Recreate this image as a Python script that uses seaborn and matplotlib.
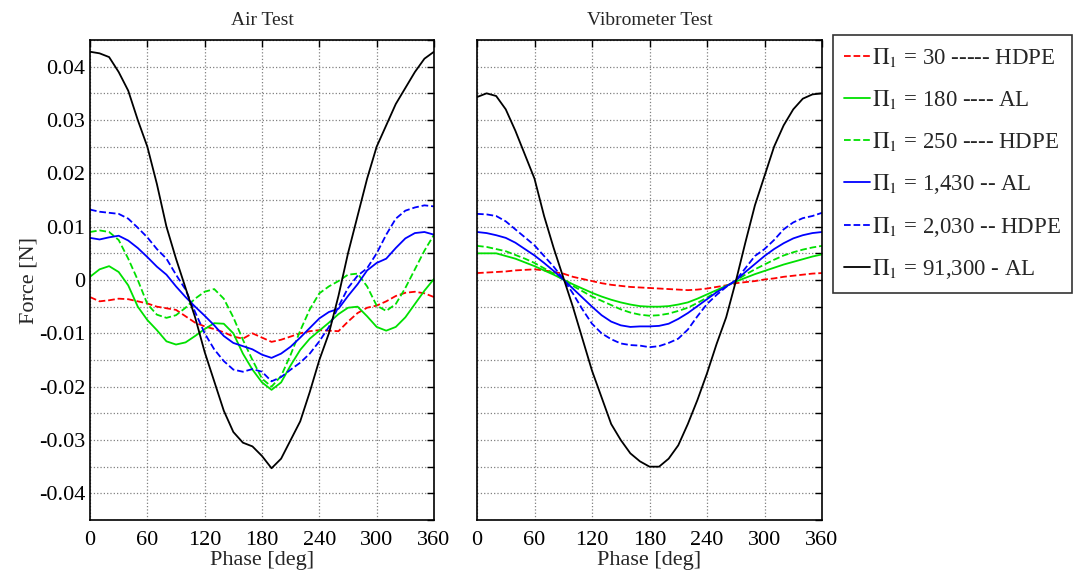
import numpy as np
import pandas as pd
import matplotlib
matplotlib.use("Agg")
import matplotlib.pyplot as plt
import seaborn as sns

phase = list(range(0, 361, 10))

labels = [r"$\Pi_1$ = 30 ----- HDPE",
          r"$\Pi_1$ = 180 ---- AL",
          r"$\Pi_1$ = 250 ---- HDPE",
          r"$\Pi_1$ = 1,430 -- AL",
          r"$\Pi_1$ = 2,030 -- HDPE",
          r"$\Pi_1$ = 91,300 - AL"]

# ---- Air Test ----
air_30 = [-0.0032, -0.0040, -0.0038, -0.0035, -0.0036, -0.0040, -0.0044, -0.0050, -0.0053, -0.0056,
          -0.0068, -0.0080, -0.0087, -0.0092, -0.0098, -0.0106, -0.0110, -0.0100, -0.0108, -0.0116,
          -0.0112, -0.0106, -0.0100, -0.0096, -0.0094, -0.0095, -0.0096, -0.0078, -0.0062, -0.0052,
          -0.0048, -0.0040, -0.0030, -0.0024, -0.0022, -0.0025, -0.0032]
air_180 = [0.0006, 0.0020, 0.0026, 0.0015, -0.0010, -0.0050, -0.0075, -0.0094, -0.0115, -0.0121,
           -0.0117, -0.0105, -0.0092, -0.0081, -0.0082, -0.0100, -0.0138, -0.0168, -0.0192, -0.0206,
           -0.0192, -0.0160, -0.0131, -0.0110, -0.0095, -0.0080, -0.0064, -0.0052, -0.0050, -0.0068,
           -0.0088, -0.0095, -0.0088, -0.0070, -0.0045, -0.0020, 0.0002]
air_250 = [0.0090, 0.0093, 0.0090, 0.0075, 0.0040, 0.0000, -0.0045, -0.0065, -0.0071, -0.0066,
           -0.0052, -0.0035, -0.0022, -0.0017, -0.0035, -0.0070, -0.0112, -0.0150, -0.0185, -0.0200,
           -0.0180, -0.0140, -0.0095, -0.0055, -0.0025, -0.0012, -0.0002, 0.0010, 0.0012, -0.0012,
           -0.0048, -0.0058, -0.0045, -0.0015, 0.0020, 0.0055, 0.0085]
air_1430 = [0.0079, 0.0076, 0.0080, 0.0083, 0.0074, 0.0060, 0.0043, 0.0025, 0.0010, -0.0012,
            -0.0032, -0.0050, -0.0067, -0.0085, -0.0105, -0.0118, -0.0124, -0.0130, -0.0140, -0.0146,
            -0.0138, -0.0125, -0.0108, -0.0090, -0.0072, -0.0060, -0.0054, -0.0030, -0.0008, 0.0018,
            0.0032, 0.0040, 0.0060, 0.0078, 0.0088, 0.0090, 0.0085]
air_2030 = [0.0132, 0.0128, 0.0126, 0.0124, 0.0115, 0.0098, 0.0080, 0.0058, 0.0040, 0.0010,
            -0.0018, -0.0060, -0.0100, -0.0130, -0.0152, -0.0168, -0.0172, -0.0167, -0.0172, -0.0190,
            -0.0182, -0.0168, -0.0155, -0.0138, -0.0115, -0.0088, -0.0050, -0.0015, 0.0008, 0.0022,
            0.0050, 0.0085, 0.0115, 0.0130, 0.0136, 0.0140, 0.0138]
air_91300 = [0.0428, 0.0425, 0.0418, 0.0390, 0.0355, 0.0300, 0.0250, 0.0180, 0.0100, 0.0040,
             -0.0015, -0.0070, -0.0135, -0.0190, -0.0245, -0.0285, -0.0305, -0.0312, -0.0330, -0.0353,
             -0.0335, -0.0300, -0.0265, -0.0210, -0.0150, -0.0100, -0.0030, 0.0050, 0.0120, 0.0190,
             0.0250, 0.0290, 0.0330, 0.0360, 0.0390, 0.0415, 0.0428]

# ---- Vibrometer Test ----
vib_30 = [0.0013, 0.0014, 0.0015, 0.0016, 0.0018, 0.0019, 0.0020, 0.0018, 0.0015, 0.0012,
          0.0006, 0.0002, -0.0002, -0.0006, -0.0009, -0.0011, -0.0013, -0.0014, -0.0015, -0.0016,
          -0.0017, -0.0018, -0.0019, -0.0018, -0.0016, -0.0013, -0.0010, -0.0006, -0.0004, -0.0002,
          0.0001, 0.0003, 0.0006, 0.0008, 0.0010, 0.0012, 0.0013]
vib_180 = [0.0050, 0.0050, 0.0050, 0.0045, 0.0040, 0.0033, 0.0026, 0.0018, 0.0010, 0.0001,
           -0.0008, -0.0016, -0.0024, -0.0031, -0.0037, -0.0042, -0.0046, -0.0049, -0.0050, -0.0050,
           -0.0049, -0.0046, -0.0042, -0.0035, -0.0027, -0.0019, -0.0011, -0.0003, 0.0004, 0.0011,
           0.0017, 0.0023, 0.0029, 0.0034, 0.0039, 0.0044, 0.0048]
vib_250 = [0.0064, 0.0062, 0.0058, 0.0054, 0.0047, 0.0040, 0.0032, 0.0022, 0.0012, 0.0001,
           -0.0011, -0.0021, -0.0031, -0.0039, -0.0047, -0.0055, -0.0061, -0.0065, -0.0067, -0.0066,
           -0.0063, -0.0058, -0.0052, -0.0043, -0.0033, -0.0022, -0.0012, -0.0001, 0.0010, 0.0020,
           0.0029, 0.0038, 0.0046, 0.0052, 0.0057, 0.0061, 0.0064]
vib_1430 = [0.0090, 0.0088, 0.0084, 0.0079, 0.0070, 0.0058, 0.0046, 0.0032, 0.0017, 0.0001,
            -0.0016, -0.0033, -0.0050, -0.0066, -0.0078, -0.0085, -0.0088, -0.0087, -0.0087, -0.0086,
            -0.0082, -0.0073, -0.0062, -0.0049, -0.0036, -0.0023, -0.0012, -0.0001, 0.0015, 0.0030,
            0.0045, 0.0058, 0.0069, 0.0078, 0.0084, 0.0088, 0.0090]
vib_2030 = [0.0124, 0.0123, 0.0120, 0.0110, 0.0095, 0.0080, 0.0065, 0.0045, 0.0025, 0.0002,
            -0.0025, -0.0055, -0.0082, -0.0100, -0.0111, -0.0119, -0.0122, -0.0123, -0.0126, -0.0124,
            -0.0118, -0.0110, -0.0093, -0.0068, -0.0045, -0.0028, -0.0013, -0.0001, 0.0022, 0.0045,
            0.0058, 0.0075, 0.0095, 0.0108, 0.0116, 0.0120, 0.0126]
vib_91300 = [0.0343, 0.0350, 0.0345, 0.0320, 0.0280, 0.0235, 0.0190, 0.0120, 0.0060, 0.0005,
             -0.0050, -0.0110, -0.0170, -0.0220, -0.0270, -0.0300, -0.0325, -0.0340, -0.0350, -0.0350,
             -0.0335, -0.0310, -0.0270, -0.0225, -0.0175, -0.0120, -0.0070, -0.0003, 0.0070, 0.0140,
             0.0195, 0.0250, 0.0290, 0.0320, 0.0340, 0.0348, 0.0350]

air_series = [air_30, air_180, air_250, air_1430, air_2030, air_91300]
vib_series = [vib_30, vib_180, vib_250, vib_1430, vib_2030, vib_91300]
colors = ["#ff0000", "#00e000", "#00e000", "#0000ff", "#0000ff", "#000000"]
styles = ["--", "-", "--", "-", "--", "-"]

sns.set_theme(style="white")
plt.rcParams["font.family"] = ["Liberation Serif", "DejaVu Serif"]
plt.rcParams["mathtext.fontset"] = "stix"
plt.rcParams["axes.edgecolor"] = "black"

fig = plt.figure(figsize=(10.73, 5.75), dpi=100)
ax1 = fig.add_axes([90 / 1073, 1 - 520 / 575, 344 / 1073, 480 / 575])
ax2 = fig.add_axes([477 / 1073, 1 - 520 / 575, 345 / 1073, 480 / 575])

yt = np.round(np.arange(-0.045, 0.0451, 0.005), 3)
ylab = []
for v in yt:
    k = int(round(v * 1000))
    if k % 10 == 0:
        ylab.append("0" if k == 0 else f"{v:.2f}")
    else:
        ylab.append("")

for ax, series, title in [(ax1, air_series, "Air Test"), (ax2, vib_series, "Vibrometer Test")]:
    for vals, c, ls, lab in zip(series, colors, styles, labels):
        df = pd.DataFrame({"Phase": phase, "Force": vals})
        sns.lineplot(data=df, x="Phase", y="Force", ax=ax, color=c, linestyle=ls,
                     linewidth=1.3, label=lab, legend=False)
    ax.set_xlim(0, 360)
    ax.set_ylim(-0.045, 0.045)
    ax.set_xticks(range(0, 361, 60))
    ax.set_yticks(yt)
    ax.grid(True, linestyle=":", color="0.5", linewidth=0.9)
    ax.tick_params(direction="in", length=5, width=1, top=True, right=True,
                   labelsize=16, colors="black")
    ax.tick_params(axis="x", pad=8)
    for s in ax.spines.values():
        s.set_linewidth(1.2)
        s.set_color("black")
    ax.set_title(title, fontsize=14, pad=11)
    ax.set_xlabel("Phase [deg]", fontsize=16, labelpad=1)

ax1.set_yticklabels(ylab)
ax1.set_ylabel("Force [N]", fontsize=16, labelpad=0)
ax2.set_yticklabels([])
ax2.set_ylabel("")

h, l = ax2.get_legend_handles_labels()
leg = fig.legend(h, l, loc="upper left", bbox_to_anchor=(833 / 1073, 1 - 35 / 575),
                 fontsize=16.5, frameon=True, fancybox=False, edgecolor="black",
                 handlelength=1.12, handletextpad=0.08, labelspacing=0.82,
                 borderpad=0.5, borderaxespad=0)
leg.get_frame().set_linewidth(1.2)

fig.savefig("out.png", dpi=100)
